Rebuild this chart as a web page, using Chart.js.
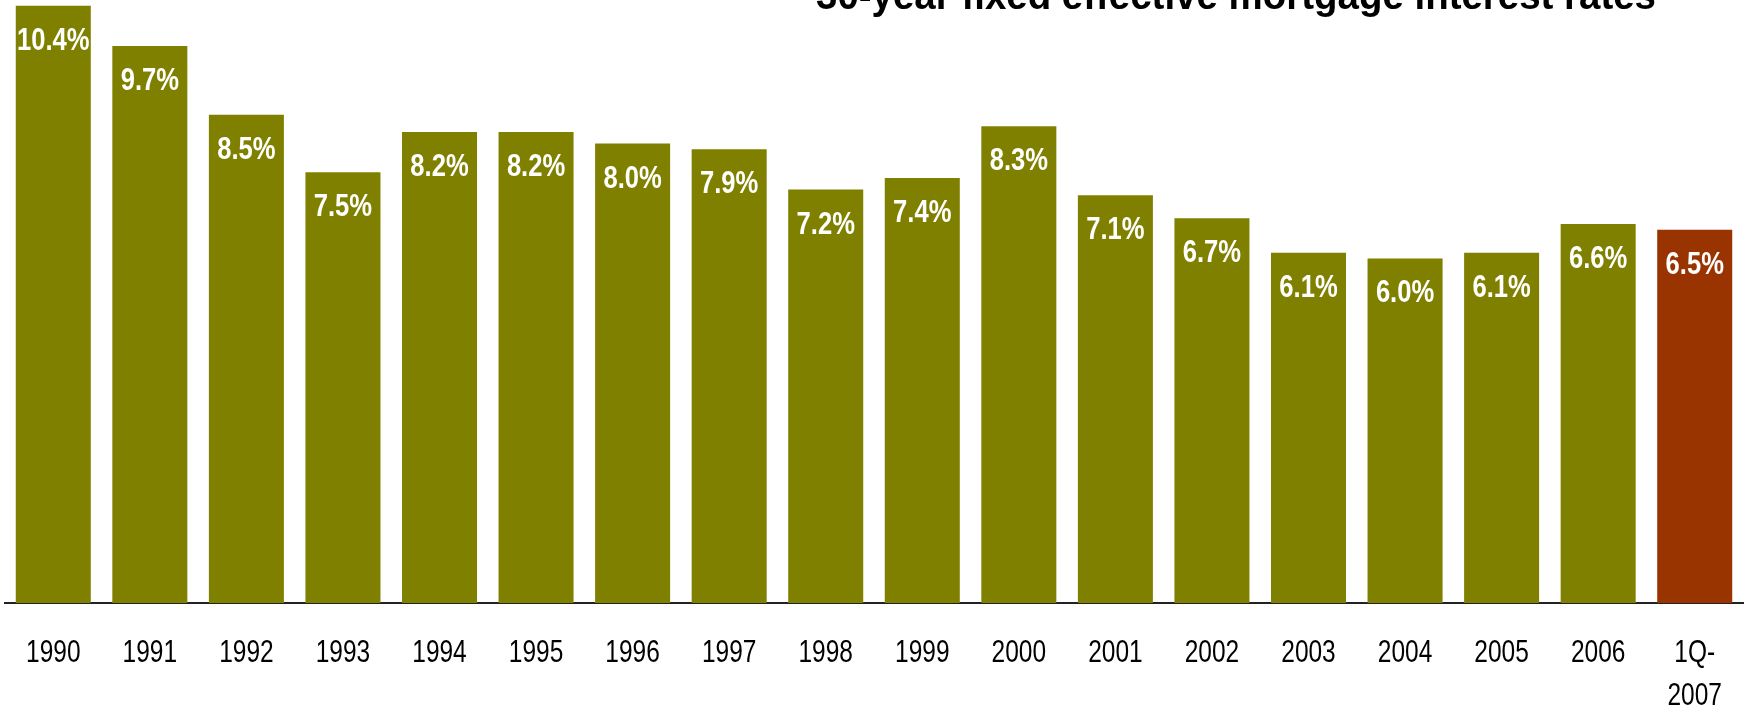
<!DOCTYPE html>
<html>
<head>
<meta charset="utf-8">
<script src="https://cdn.jsdelivr.net/npm/chart.js@4.4.0/dist/chart.umd.min.js"></script>
<style>
  html, body { margin: 0; padding: 0; background: #fff; }
  #wrap { width: 1745px; height: 705px; position: relative; }
</style>
</head>
<body>
<div id="wrap"><canvas id="chart"></canvas></div>
<script>
const titleText = '30-year fixed effective mortgage interest rates';
const years = ['1990', '1991', '1992', '1993', '1994', '1995', '1996', '1997', '1998',
    '1999', '2000', '2001', '2002', '2003', '2004', '2005', '2006', ['1Q-', '2007']];
const rates = [10.4, 9.7, 8.5, 7.5, 8.2, 8.2, 8.0, 7.9, 7.2, 7.4, 8.3, 7.1, 6.7, 6.1, 6.0, 6.1, 6.6, 6.5];
const barColors = rates.map((v, i) => i === rates.length - 1 ? '#993300' : '#808000');

const family = '"Liberation Sans", Arial, sans-serif';

// no narrow font installed, so squeeze the text sideways like Arial Narrow
function narrowText(ctx, text, x, y, squeeze) {
    ctx.save();
    ctx.translate(x, y);
    ctx.scale(squeeze, 1);
    ctx.fillText(text, 0, 0);
    ctx.restore();
}

// white value labels inside the top of each bar
const valueLabels = {
    id: 'valueLabels',
    afterDatasetsDraw(chart) {
        const ctx = chart.ctx;
        const meta = chart.getDatasetMeta(0);
        ctx.save();
        ctx.fillStyle = '#fff';
        ctx.font = 'bold 32px ' + family;
        ctx.textAlign = 'center';
        ctx.textBaseline = 'alphabetic';
        meta.data.forEach((bar, i) => {
            narrowText(ctx, rates[i].toFixed(1) + '%', bar.x, bar.y + 44, 0.8);
        });
        ctx.restore();
    }
};

// category labels under the axis, drawn at the scale's own tick positions
const yearLabels = {
    id: 'yearLabels',
    afterDraw(chart) {
        const ctx = chart.ctx;
        const xs = chart.scales.x;
        ctx.save();
        ctx.fillStyle = '#000';
        ctx.font = '31px ' + family;
        ctx.textAlign = 'center';
        ctx.textBaseline = 'alphabetic';
        years.forEach((lab, i) => {
            const lines = Array.isArray(lab) ? lab : [lab];
            const x = xs.getPixelForValue(i);
            lines.forEach((ln, j) => {
                narrowText(ctx, ln, x, xs.top + 59 + j * 43, 0.79);
            });
        });
        ctx.restore();
    }
};

// title sits half off the top of the picture
const cutTitle = {
    id: 'cutTitle',
    afterDraw(chart) {
        const ctx = chart.ctx;
        ctx.save();
        ctx.fillStyle = '#000';
        ctx.font = 'bold 40px ' + family;
        const w = ctx.measureText(titleText).width;
        ctx.translate(816, 9);
        ctx.scale(840 / w, 1);
        ctx.textBaseline = 'alphabetic';
        ctx.fillText(titleText, 0, 0);
        ctx.restore();
    }
};

const ctx = document.getElementById('chart').getContext('2d');
new Chart(ctx, {
    type: 'bar',
    data: {
        labels: years,
        datasets: [{
            data: rates,
            backgroundColor: barColors,
            barPercentage: 0.777,
            categoryPercentage: 1.0
        }]
    },
    options: {
        responsive: true,
        maintainAspectRatio: false,
        animation: false,
        layout: { padding: { left: 5, right: 2, top: 0, bottom: 0 } },
        plugins: {
            legend: { display: false },
            tooltip: { enabled: false }
        },
        scales: {
            x: {
                grid: { display: false, drawTicks: false },
                border: { display: true, color: '#222', width: 2 },
                ticks: { display: false },
                afterFit(axis) { axis.height = 102; }
            },
            y: {
                display: false,
                min: 0,
                max: 10.5
            }
        }
    },
    plugins: [valueLabels, yearLabels, cutTitle]
});
</script>
</body>
</html>
